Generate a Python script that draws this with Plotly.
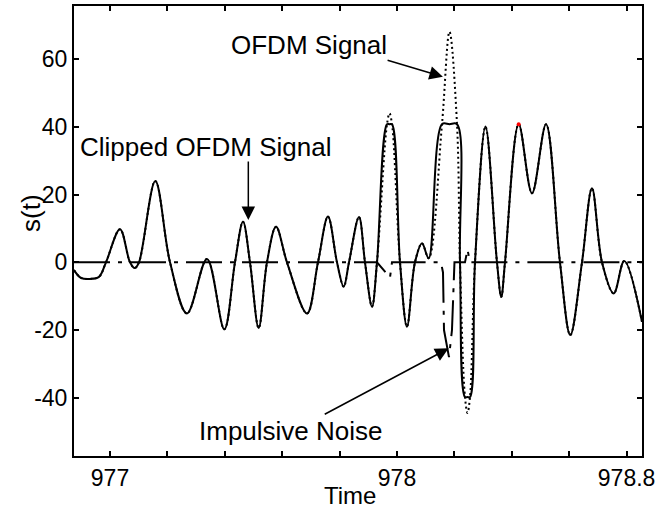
import plotly.graph_objects as go

# ---- data ----
time = [976.8746, 976.8990, 976.9303, 976.9617, 976.9861, 977.0348, 977.0697, 977.0861, 977.1010, 977.1578,
        977.2091, 977.2683, 977.3380, 977.3983, 977.4355, 977.4634, 977.4878, 977.5181, 977.5470, 977.5784,
        977.6167, 977.6864, 977.7247, 977.7596, 977.7909, 977.8143, 977.8328, 977.8676, 977.8885, 977.9129,
        977.9303, 977.9652, 977.9739, 977.9826, 978.0105, 978.0348, 978.0627, 978.0871, 978.1105, 978.1568,
        978.1829, 978.2091, 978.2195, 978.2369, 978.2456, 978.2544, 978.2718, 978.3084, 978.3484, 978.3634,
        978.3763, 978.4240, 978.4704, 978.5192, 978.5679, 978.6038, 978.6446, 978.6794, 978.7143, 978.7551,
        978.7920, 978.8537]

clipped_signal = [-2.3, -4.6, -4.9, -4.3, 0, 9.8, 0, -1.7, 0, 24.0,
                  0, -15.1, 1.0, -19.8, 0, 12.0, 0, -19.4, 0, 10.5,
                  0, -15.1, 0, 13.5, 0, -7.2, 0, 13.4, 0, -13.1,
                  0, 40.8, 40.8, 40.8, 0, -19.0, 0, 5.6, 1.2, 40.8,
                  40.8, 40.8, 0, -39.8, -39.8, -39.8, 0, 40.1, 0, -10.2,
                  0, 40.8, 20.4, 40.8, 0, -21.5, 0, 21.9, 0, -9.2,
                  0.4, -17.6]

ofdm_signal = [-2.3, -4.6, -4.9, -4.3, 0, 9.8, 0, -1.7, 0, 24.0,
               0, -15.1, 1.0, -19.8, 0, 12.0, 0, -19.4, 0, 10.5,
               0, -15.1, 0, 13.5, 0, -7.2, 0, 13.4, 0, -13.1,
               0, 40.8, 44.0, 40.8, 0, -19.0, 0, 5.6, 1.2, 40.8,
               68.1, 40.8, 0, -39.8, -44.5, -39.8, 0, 40.1, 0, -10.2,
               0, 40.8, 20.4, 40.8, 0, -21.5, 0, 21.9, 0, -9.2,
               0.4, -17.6]

noise_time = [976.8746, 977.9303, 977.9756, 977.9826, 978.1533, 978.1603, 978.1638,
              978.1812, 978.1916, 978.2003, 978.2369, 978.2456, 978.2544, 978.8537]
noise_value = [0, 0, -4.5, 0, 0, -3, -20, -28, -20, 0, 0, 3.8, 0, 0]

marker_time = [978.4240]
marker_value = [40.8]

x_tick_vals = [977.0, 977.2, 977.4, 977.6, 977.8, 978.0, 978.2, 978.4, 978.6, 978.8]
x_tick_text = ["977", "", "", "", "", "978", "", "", "", "978.8"]
y_tick_vals = [-40, -20, 0, 20, 40, 60]
y_tick_text = ["-40", "-20", "0", "20", "40", "60"]

FONT = "Liberation Sans, Arial, sans-serif"

fig = go.Figure()

fig.add_trace(go.Scatter(x=time, y=ofdm_signal, mode="lines",
                         line=dict(color="black", width=2, dash="2px,3px", shape="spline"),
                         showlegend=False, hoverinfo="skip"))
fig.add_trace(go.Scatter(x=noise_time, y=noise_value, mode="lines",
                         line=dict(color="black", width=2, dash="36px,8px,4px,8px"),
                         showlegend=False, hoverinfo="skip"))
fig.add_trace(go.Scatter(x=time, y=clipped_signal, mode="lines",
                         line=dict(color="black", width=2, shape="spline"),
                         showlegend=False, hoverinfo="skip"))
fig.add_trace(go.Scatter(x=marker_time, y=marker_value, mode="markers",
                         marker=dict(color="red", size=4),
                         showlegend=False, hoverinfo="skip"))

ann_font = dict(family=FONT, size=26, color="black")

# text labels
fig.add_annotation(x=977.4146, y=64.1, text="OFDM Signal", showarrow=False,
                   xanchor="left", yanchor="middle", font=ann_font)
fig.add_annotation(x=976.8885, y=34.1, text="Clipped OFDM Signal", showarrow=False,
                   xanchor="left", yanchor="middle", font=ann_font)
fig.add_annotation(x=977.3031, y=-49.9, text="Impulsive Noise", showarrow=False,
                   xanchor="left", yanchor="middle", font=ann_font)

# arrows
arrow_style = dict(text="", showarrow=True, arrowhead=2, arrowsize=1.8, arrowwidth=1.5,
                   arrowcolor="black", axref="x", ayref="y", standoff=0)
fig.add_annotation(x=978.160, y=54.8, ax=977.962, ay=59.8, **arrow_style)
fig.add_annotation(x=977.482, y=12.5, ax=977.482, ay=30.2, **arrow_style)
fig.add_annotation(x=978.180, y=-25.4, ax=977.743, ay=-45.1, **arrow_style)

# axis titles
fig.add_annotation(x=0.486, y=-0.087, xref="paper", yref="paper", text="Time",
                   showarrow=False, xanchor="center", yanchor="middle",
                   font=dict(family=FONT, size=24, color="black"), borderpad=0)
fig.add_annotation(x=-0.0757, y=0.54, xref="paper", yref="paper", text="s(t)", textangle=-90,
                   showarrow=False, xanchor="center", yanchor="middle", font=ann_font)

axis_common = dict(showline=True, linecolor="black", linewidth=2, mirror="ticks",
                   ticks="inside", ticklen=5, tickwidth=1.5, tickcolor="black",
                   showgrid=False, zeroline=False, automargin=False,
                   tickfont=dict(family=FONT, size=23, color="black"))

fig.update_layout(
    width=667, height=511,
    margin=dict(l=74, r=25, t=6, b=55),
    paper_bgcolor="white", plot_bgcolor="white",
    xaxis=dict(range=[976.8746, 978.8537], tickmode="array", tickvals=x_tick_vals,
               ticktext=x_tick_text, **axis_common),
    yaxis=dict(range=[-57.2, 75.7], tickmode="array", tickvals=y_tick_vals,
               ticktext=y_tick_text, **axis_common),
)

fig.write_html("out.html")
